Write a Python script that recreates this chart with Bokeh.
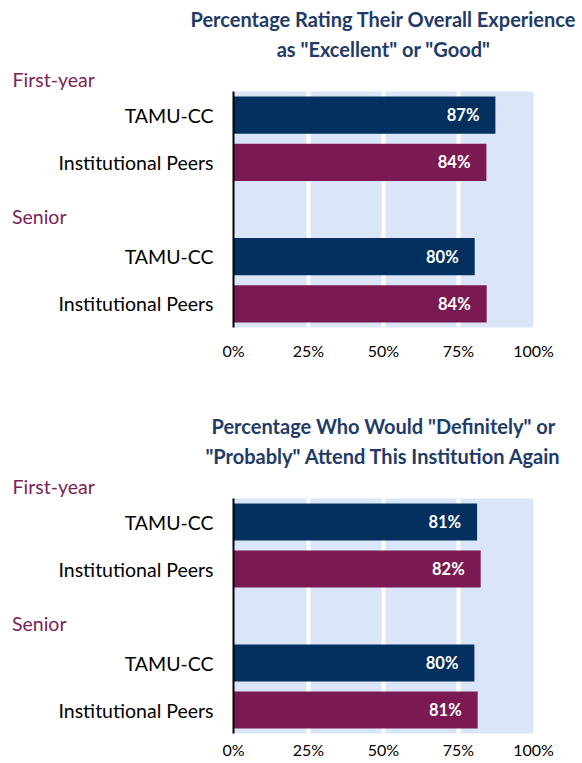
from bokeh.plotting import figure
from bokeh.models import Range1d, FixedTicker, ColumnDataSource, Title, LinearAxis
from bokeh.layouts import column
from bokeh.embed import file_html
from bokeh.resources import INLINE
from bokeh.core.properties import value

# ---- data ----
groups = ["First-year", "Senior"]
series = ["TAMU-CC", "Institutional Peers"]
x_ticks = [0, 25, 50, 75, 100]
x_tick_labels = ["0%", "25%", "50%", "75%", "100%"]

title1 = ['Percentage Rating Their Overall Experience', 'as "Excellent" or "Good"']
first_year1 = [87.3, 84.3]
senior1 = [80.4, 84.4]

title2 = ['Percentage Who Would "Definitely" or', '"Probably" Attend This Institution Again']
first_year2 = [81.2, 82.4]
senior2 = [80.3, 81.4]

# ---- style ----
NAVY = "#03305F"
MAROON = "#7B1A52"
BG = "#DAE6F8"
TITLE_C = "#1F3B68"
GROUP_C = "#7B2359"
FONT = "Lato"
series_colors = [NAVY, MAROON]
WIDTH = 582
BORDER_LEFT = 233
FRAME_W = 300


def make_chart(title_lines, fy, sr, height, border_top, frame_h, tick_standoff):
    p = figure(width=WIDTH, height=height, title=None, toolbar_location=None,
               output_backend="svg",
               x_range=Range1d(0, 100), y_range=Range1d(4.5, -0.5),
               min_border_left=BORDER_LEFT, min_border_right=WIDTH - BORDER_LEFT - FRAME_W,
               min_border_top=border_top, min_border_bottom=height - border_top - frame_h)
    p.background_fill_color = BG
    p.border_fill_color = "white"
    p.outline_line_color = None

    pos, vals, cols, names = [], [], [], []
    for gi, gvals in enumerate([fy, sr]):
        for si, v in enumerate(gvals):
            pos.append(gi * 3 + si)
            vals.append(v)
            cols.append(series_colors[si])
            names.append(series[si])
    src = ColumnDataSource(dict(pos=pos, v=vals, c=cols,
                                lbl=[f"{v:.0f}%" for v in vals]))
    p.hbar(y="pos", left=0, right="v", height=0.79, fill_color="c", line_color=None, source=src)
    p.text(x="v", y="pos", text="lbl", x_offset=-16, text_align="right", text_baseline="middle",
           text_color="white", text_font=value(FONT), text_font_style="bold",
           text_font_size="16.5px", source=src)

    # x axis
    p.xaxis.ticker = FixedTicker(ticks=x_ticks)
    p.xaxis.major_label_overrides = {t: l for t, l in zip(x_ticks, x_tick_labels)}
    p.xaxis.axis_line_color = None
    p.xaxis.major_tick_line_color = None
    p.xaxis.major_tick_out = 0
    p.xaxis.minor_tick_line_color = None
    p.xaxis.minor_tick_out = 0
    p.xaxis.major_label_standoff = tick_standoff
    p.xaxis.major_label_text_font = FONT
    p.xaxis.major_label_text_font_size = "16px"
    p.xaxis.major_label_text_color = "black"

    # category axis
    p.yaxis.ticker = FixedTicker(ticks=pos)
    p.yaxis.major_label_overrides = {pp: n for pp, n in zip(pos, names)}
    p.yaxis.axis_line_color = "black"
    p.yaxis.axis_line_width = 2
    p.yaxis.major_tick_line_color = None
    p.yaxis.major_tick_out = 0
    p.yaxis.minor_tick_line_color = None
    p.yaxis.minor_tick_out = 0
    p.yaxis.major_label_standoff = 20
    p.yaxis.major_label_text_font = FONT
    p.yaxis.major_label_text_font_size = "19.5px"
    p.yaxis.major_label_text_color = "black"

    # group axis (outer) for the second group header, which sits in the gap slot
    gy = 2.15
    gaxis = LinearAxis(ticker=FixedTicker(ticks=[gy]), major_label_overrides={gy: groups[1]},
                       axis_line_color=None, major_tick_line_color=None, major_tick_out=0,
                       minor_tick_line_color=None, minor_tick_out=0,
                       major_label_standoff=-11, major_label_text_font=FONT,
                       major_label_text_font_size="19.5px", major_label_text_color=GROUP_C)
    p.add_layout(gaxis, "left")

    p.xgrid.grid_line_color = "white"
    p.xgrid.grid_line_width = 4
    p.ygrid.grid_line_color = None

    # header texts above the frame (first added = closest to frame)
    p.add_layout(Title(text=groups[0], align="left", offset=-(BORDER_LEFT - 12),
                       text_font=FONT, text_font_style="normal", text_font_size="19.5px",
                       text_color=GROUP_C, standoff=1), "above")
    p.add_layout(Title(text=title_lines[1], align="center", offset=-9,
                       text_font=FONT, text_font_style="bold", text_font_size="20px",
                       text_color=TITLE_C, standoff=9), "above")
    p.add_layout(Title(text=title_lines[0], align="center", offset=-9,
                       text_font=FONT, text_font_style="bold", text_font_size="20px",
                       text_color=TITLE_C, standoff=0), "above")
    return p


p1 = make_chart(title1, first_year1, senior1, height=380, border_top=91, frame_h=236,
                tick_standoff=13)
p2 = make_chart(title2, first_year2, senior2, height=383, border_top=118, frame_h=235,
                tick_standoff=6)

layout = column(p1, p2, spacing=0)
open("out.html", "w").write(file_html(layout, INLINE))
